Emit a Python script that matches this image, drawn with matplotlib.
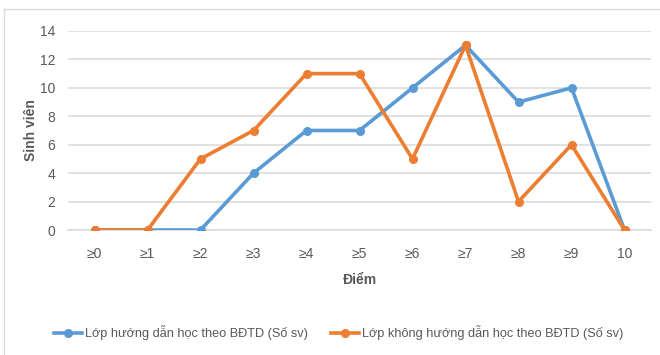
import matplotlib
matplotlib.use("Agg")
import matplotlib.pyplot as plt
from matplotlib.lines import Line2D

categories = ["≥0", "≥1", "≥2", "≥3", "≥4", "≥5", "≥6", "≥7", "≥8", "≥9", "10"]
guided = [0, 0, 0, 4, 7, 7, 10, 13, 9, 10, 0]
unguided = [0, 0, 5, 7, 11, 11, 5, 13, 2, 6, 0]
series_names = ["Lớp hướng dẫn học theo BĐTD (Số sv)",
                "Lớp không hướng dẫn học theo BĐTD (Số sv)"]
y_ticks = [0, 2, 4, 6, 8, 10, 12, 14]

plt.rcParams["font.family"] = ["Liberation Sans", "DejaVu Sans"]

BLUE = "#5B9BD5"
ORANGE = "#ED7D31"
GRID = "#D9D9D9"
TEXT = "#595959"

fig = plt.figure(figsize=(6.6, 3.55), dpi=100)
ax = fig.add_axes([68 / 660, 1 - 230 / 355, (651 - 68) / 660, (230 - 31) / 355])

x = list(range(len(categories)))
ax.plot(x, guided, color=BLUE, lw=2.6, marker="o", ms=5.5,
        solid_capstyle="round", zorder=3)
ax.plot(x, unguided, color=ORANGE, lw=2.6, marker="o", ms=5.5,
        solid_capstyle="round", zorder=4)

ax.set_xlim(-0.5, len(categories) - 0.5)
ax.set_ylim(0, 14)
ax.set_yticks(y_ticks)
ax.set_xticks(x)
ax.set_xticklabels(categories)
ax.grid(axis="y", color=GRID, lw=1.1)
ax.set_axisbelow(True)
for s in ["top", "right", "left"]:
    ax.spines[s].set_visible(False)
ax.spines["bottom"].set_color(GRID)
ax.spines["bottom"].set_linewidth(1.1)
ax.tick_params(length=0, colors=TEXT, labelsize=10)
ax.tick_params(axis="x", pad=12)
ax.tick_params(axis="y", pad=9)

ax.set_xlabel("Điểm", fontsize=10, fontweight="bold", color=TEXT)
ax.set_ylabel("Sinh viên", fontsize=10, fontweight="bold", color=TEXT)
ax.xaxis.set_label_coords(0.501, -0.216)
ax.yaxis.set_label_coords(-0.051, 0.5)

# one legend entry per series, placed side by side below the plot
legend_y = 1 - 333 / 355
for name, color, left in [(series_names[0], BLUE, 54 / 660),
                          (series_names[1], ORANGE, 331 / 660)]:
    handle = Line2D([], [], color=color, lw=2.6, marker="o", ms=5.5)
    fig.legend([handle], [name], loc="center left",
               bbox_to_anchor=(left, legend_y), frameon=False,
               fontsize=9.2, labelcolor=TEXT, handlelength=2.2,
               handletextpad=0.25, borderpad=0, borderaxespad=0)

# chart frame (top and left edges visible)
frame_col = "#D9D9D9"
fig.add_artist(Line2D([4 / 660, 1], [1 - 9 / 355, 1 - 9 / 355],
                      transform=fig.transFigure, color=frame_col, lw=1.0))
fig.add_artist(Line2D([4 / 660, 4 / 660], [0, 1 - 9 / 355],
                      transform=fig.transFigure, color=frame_col, lw=1.0))

fig.savefig("out.png", dpi=100)
